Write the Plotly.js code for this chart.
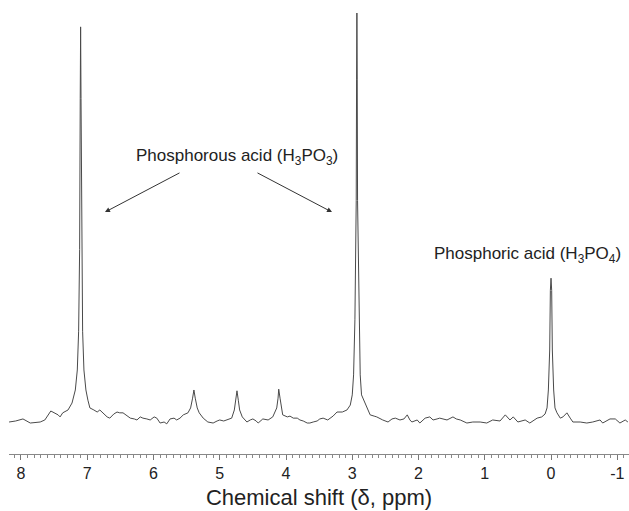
<!DOCTYPE html>
<html>
<head>
<meta charset="utf-8">
<script src="https://cdn.plot.ly/plotly-3.0.1.min.js"></script>
<style>html,body{margin:0;padding:0;background:#fff;}#chart{width:629px;height:511px;}</style>
</head>
<body>
<div id="chart"></div>
<script>
// Chemical shift (ppm) and relative intensity
const shiftPpm = [
 8.18, 8.08, 7.97, 7.86, 7.71, 7.64, 7.55, 7.49, 7.44, 7.41, 7.37, 7.29, 7.23, 7.18, 7.15, 7.13, 7.115, 7.106, 7.10, 7.094, 7.08, 7.07, 7.05, 7.02, 6.99, 6.96,
 6.90, 6.85, 6.81, 6.75, 6.70, 6.66, 6.60, 6.55, 6.51, 6.46, 6.40, 6.35, 6.29, 6.25, 6.20, 6.16, 6.10, 6.05, 5.99, 5.95, 5.90, 5.84, 5.80, 5.75, 5.69, 5.65,
 5.60, 5.55, 5.48, 5.44, 5.41, 5.39, 5.37, 5.34, 5.31, 5.25, 5.18, 5.10, 5.04, 5.00, 4.94, 4.89, 4.82, 4.78, 4.76, 4.74, 4.72, 4.70, 4.66, 4.59, 4.54, 4.50,
 4.45, 4.42, 4.35, 4.27, 4.20, 4.14, 4.12, 4.11, 4.09, 4.07, 4.05, 3.98, 3.94, 3.89, 3.83, 3.79, 3.74, 3.68, 3.64, 3.59, 3.53, 3.49, 3.44, 3.37, 3.29, 3.23,
 3.15, 3.08, 3.03, 3.00, 2.98, 2.96, 2.94, 2.935, 2.93, 2.925, 2.92, 2.90, 2.88, 2.86, 2.81, 2.73, 2.67, 2.63, 2.54, 2.46, 2.40, 2.35, 2.28, 2.22, 2.17, 2.13,
 2.10, 2.02, 1.98, 1.90, 1.83, 1.78, 1.72, 1.68, 1.57, 1.48, 1.43, 1.37, 1.27, 1.18, 1.07, 0.97, 0.88, 0.77, 0.69, 0.65, 0.62, 0.57, 0.50, 0.39, 0.32, 0.21,
 0.14, 0.09, 0.06, 0.04, 0.02, 0.01, 0.00, -0.01, -0.02, -0.04, -0.06, -0.09, -0.14, -0.18, -0.24, -0.29, -0.33, -0.44, -0.54, -0.63, -0.74, -0.78, -0.89,
 -0.97, -1.04, -1.12, -1.16
];
const intensity = [
 -0.25, 0, 0.5, -0.5, -0.25, 0.25, 2.45, 2.0, 1.5, 1.0, 2.0, 2.7, 4.4, 7.6, 12.5, 22, 42, 79, 96.6, 79, 42, 22, 12.5, 7.6, 5.1, 3.2,
 2.7, 2.2, 2.7, 1.7, 1.0, 0.7, 1.7, 2.2, 2.0, 2.0, 1.2, 0.7, 0.5, 0.25, 1.0, 0.7, 0.5, 0.25, 1.0, 0.7, -0.5, -0.25, -0.7, 0.5, 0.7, 0.25,
 0.7, 1.5, 2.0, 3.2, 5.6, 7.6, 5.6, 3.2, 2.0, 0.7, -0.25, -0.5, 0, 0.25, 0, 0.25, 0.7, 2.7, 5.1, 7.4, 5.1, 2.7, 1.0, -0.25, 0.25, 0.5,
 0, -0.5, 0.5, 0.25, 1.0, 3.2, 5.6, 7.8, 5.6, 3.2, 1.5, 1.0, 1.2, 0.7, 0.7, 0.25, 0, -0.5, -0.5, -0.25, 0, 0.5, 0.7, 0.25, 1.2, 2.2,
 2.2, 2.7, 3.9, 6.4, 11.3, 24.8, 54, 83.6, 100, 83.6, 54, 24.8, 11.3, 6.4, 4.4, 1.5, 1.2, 1.0, 0.25, -0.25, 0.5, 0.7, 0.25, 0.5, 1.5, 0.25,
 -0.25, 0.25, -0.5, 0.7, 1.0, 0.25, 0.5, 0.7, 0.25, 1.0, 0.5, 0.25, -0.5, -0.25, -0.25, -0.5, 0.25, 0, 1.5, 0.7, 0.25, 1.0, -0.25, 0.25, -0.5, 0.7,
 1.0, 1.7, 3.2, 7.6, 17.4, 32, 35, 32, 17.4, 7.6, 3.2, 2.0, 0.7, 1.0, 2.0, 0.7, -0.25, -0.25, -0.5, -0.25, 0.25, -0.5, 0.5,
 0.5, -0.5, 0.25, -0.25
];
const tickValues = [8, 7, 6, 5, 4, 3, 2, 1, 0, -1];
const tickLabels = ["8", "7", "6", "5", "4", "3", "2", "1", "0", "-1"];
const labelAcid3 = "Phosphorous acid (H<sub>3</sub>PO<sub>3</sub>)";
const labelAcid4 = "Phosphoric acid (H<sub>3</sub>PO<sub>4</sub>)";

const font = "Liberation Sans, Arial, sans-serif";
const trace = {
  x: shiftPpm, y: intensity, type: "scatter", mode: "lines",
  line: {color: "#4a4a4a", width: 1}, hoverinfo: "skip"
};
const arrowStyle = {showarrow: true, arrowhead: 2, arrowsize: 1, arrowwidth: 1, arrowcolor: "#333", axref: "x", ayref: "y", text: ""};
const layout = {
  width: 629, height: 511,
  margin: {l: 9, r: 0, t: 5, b: 57},
  paper_bgcolor: "#fff", plot_bgcolor: "#fff",
  showlegend: false,
  font: {family: font, color: "#222"},
  xaxis: {
    range: [8.181, -1.177], autorange: false,
    tickmode: "array", tickvals: tickValues, ticktext: tickLabels,
    ticks: "outside", ticklen: 5, tickwidth: 1, tickcolor: "#777",
    minor: {dtick: 0.1, ticks: "outside", ticklen: 3, tickwidth: 1, tickcolor: "#888", showgrid: false},
    showline: true, linecolor: "#888", linewidth: 1,
    showgrid: false, zeroline: false,
    tickfont: {size: 16, family: font, color: "#222"},
    title: {text: "Chemical shift (δ, ppm)", font: {size: 22, family: font, color: "#222"}, standoff: 8}
  },
  yaxis: {range: [-8.09, 101.96], autorange: false, visible: false, showgrid: false, zeroline: false},
  annotations: [
    {x: 4.74, y: 64.7, xref: "x", yref: "y", text: labelAcid3, showarrow: false, font: {size: 17, family: font, color: "#222"}},
    {x: 0.362, y: 40.7, xref: "x", yref: "y", text: labelAcid4, showarrow: false, font: {size: 17, family: font, color: "#222"}},
    Object.assign({x: 6.732, y: 51.2, xref: "x", yref: "y", ax: 5.585, ay: 61.0}, arrowStyle),
    Object.assign({x: 3.306, y: 51.2, xref: "x", yref: "y", ax: 4.453, ay: 61.0}, arrowStyle)
  ]
};
Plotly.newPlot("chart", [trace], layout, {displayModeBar: false, staticPlot: true});
</script>
</body>
</html>
